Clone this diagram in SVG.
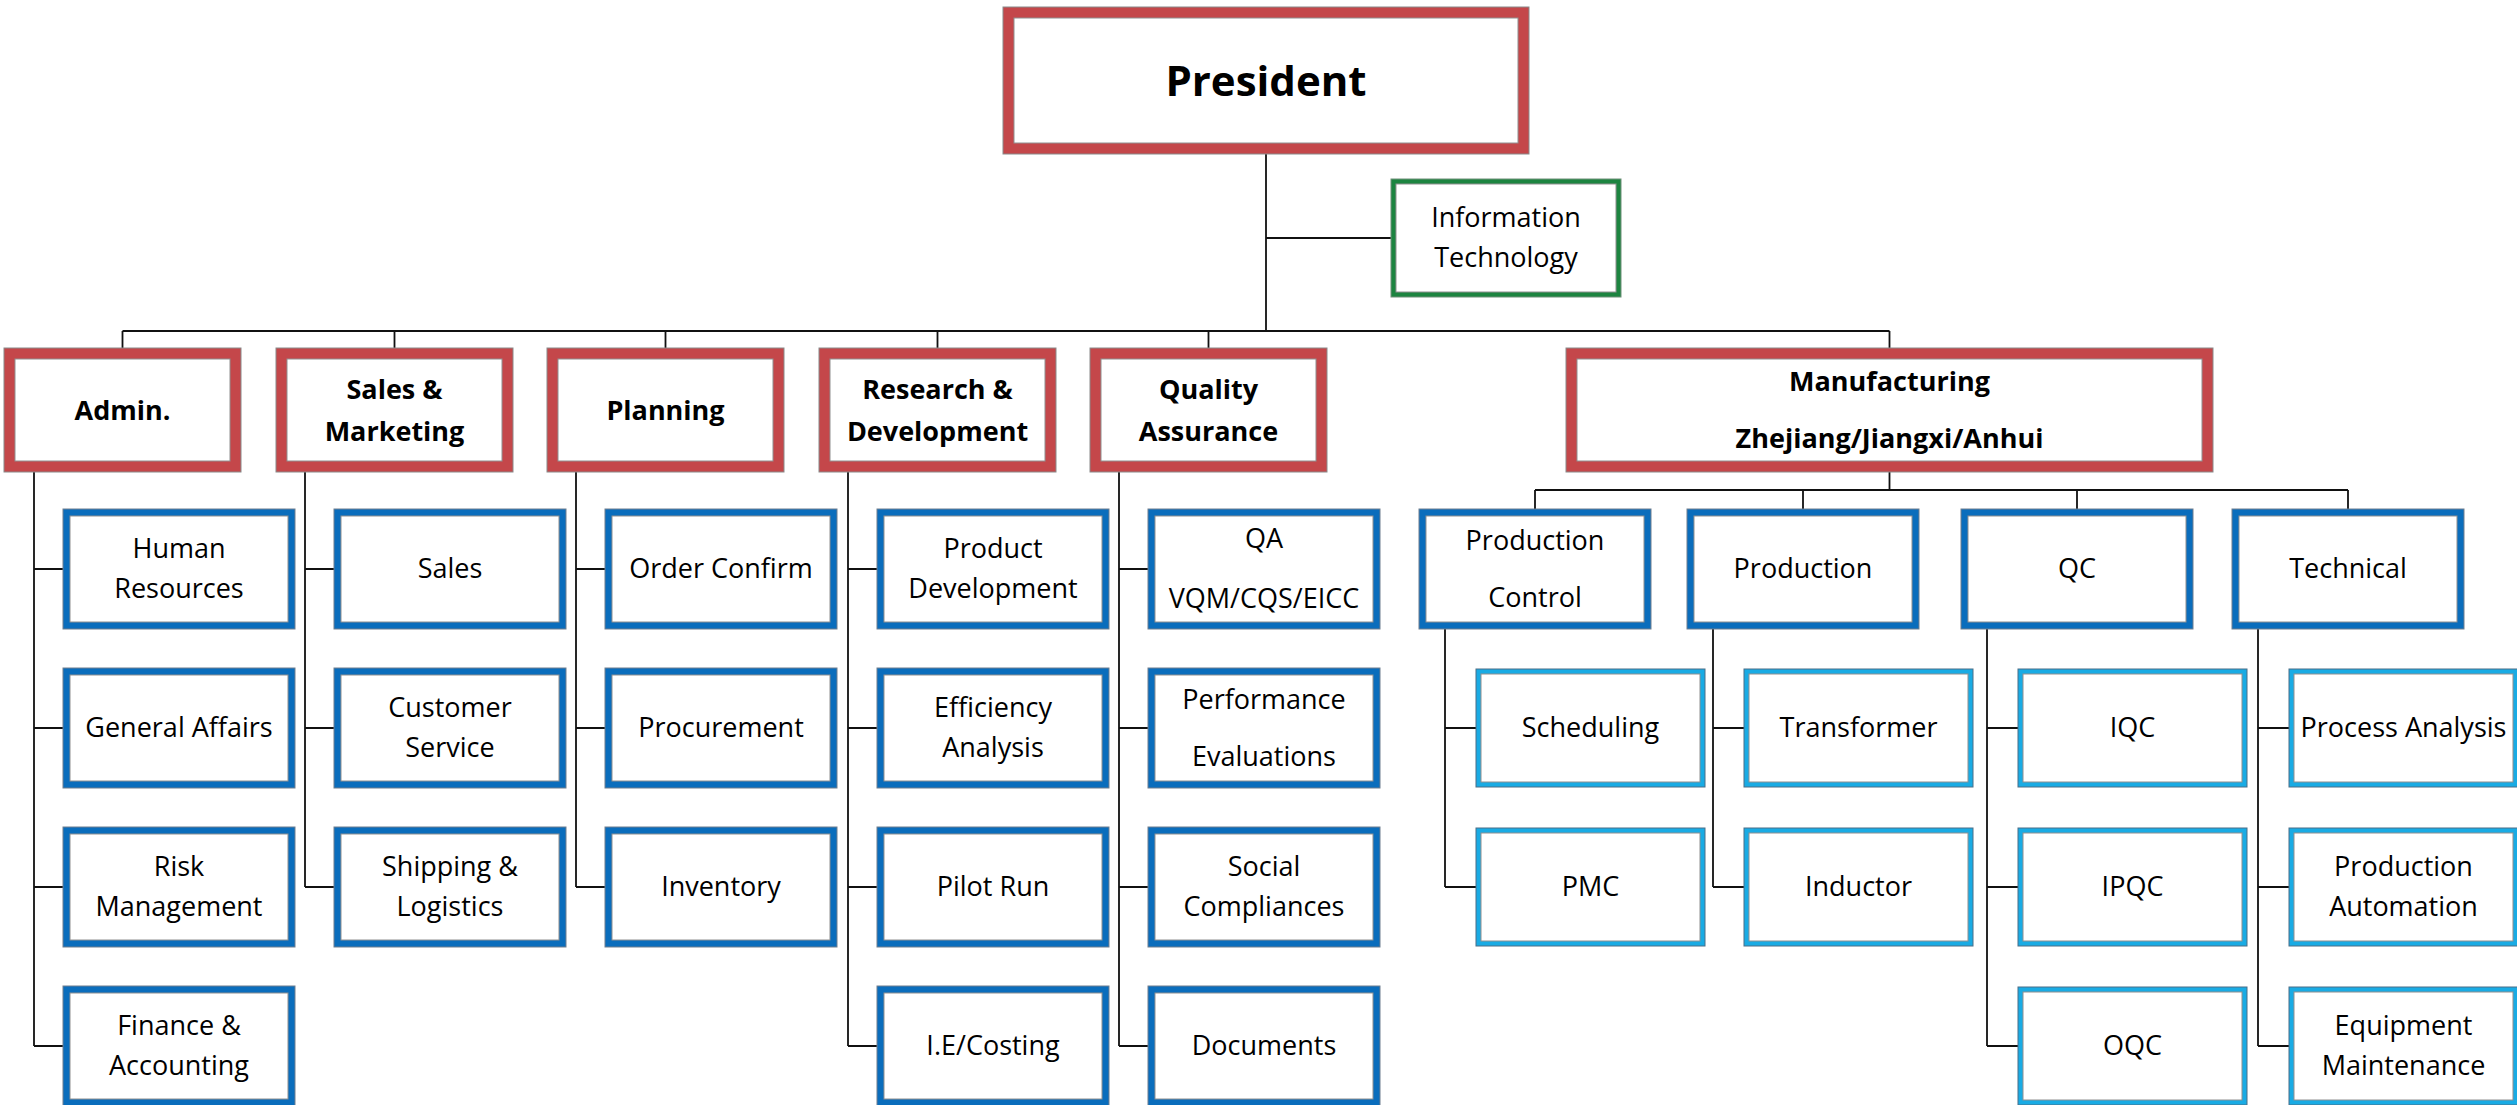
<svg xmlns="http://www.w3.org/2000/svg" width="2517" height="1105" viewBox="0 0 2517 1105">
<style>
text{font-family:"Open Sans","Noto Sans","DejaVu Sans",sans-serif;fill:#000;text-anchor:middle}
.t{font-size:27px}
.b{font-size:27px;font-weight:bold}
.p{font-size:42px;font-weight:bold}
.red{fill:#C4474A;stroke:#8a8a8a;stroke-width:1}
.dblue{fill:#0A6DBC;stroke:#6f7f8f;stroke-width:1}
.lblue{fill:#19ABE4;stroke:#4a6f88;stroke-width:1}
.green{fill:#1C8440;stroke:#6f8f78;stroke-width:1}
.in{fill:#fff;stroke:#8f8f8f;stroke-width:1}
.c{fill:none;stroke:#111;stroke-width:1.8}
</style>
<g id="connectors">
<path class="c" d="M1266 154V331M1266 238H1391M122.5 331H1889.5"/>
<path class="c" d="M122.5 331V348M394.5 331V348M665.5 331V348M937.5 331V348M1208.5 331V348M1889.5 331V348"/>
<path class="c" d="M34 472V1046M34 569H63M34 728H63M34 887H63M34 1046H63"/>
<path class="c" d="M305 472V887M305 569H334M305 728H334M305 887H334"/>
<path class="c" d="M576 472V887M576 569H605M576 728H605M576 887H605"/>
<path class="c" d="M848 472V1046M848 569H877M848 728H877M848 887H877M848 1046H877"/>
<path class="c" d="M1119 472V1046M1119 569H1148M1119 728H1148M1119 887H1148M1119 1046H1148"/>
<path class="c" d="M1889.5 472V490M1535 490H2348M1535 490V509M1803 490V509M2077 490V509M2348 490V509"/>
<path class="c" d="M1445 629V887M1445 728H1476M1445 887H1476"/>
<path class="c" d="M1713 629V887M1713 728H1744M1713 887H1744"/>
<path class="c" d="M1987 629V1046M1987 728H2018M1987 887H2018M1987 1046H2018"/>
<path class="c" d="M2258 629V1046M2258 728H2289M2258 887H2289M2258 1046H2289"/>
</g>
<g id="president"><rect class="red" x="1003" y="7" width="526" height="147"/><rect class="in" x="1014" y="18" width="504" height="125"/><text class="p" x="1266" y="96">President</text></g>
<g id="it"><rect class="green" x="1391" y="179" width="230" height="118"/><rect class="in" x="1396" y="184" width="220" height="108"/><text class="t" x="1506" y="227">Information</text><text class="t" x="1506" y="267">Technology</text></g>
<g id="admin"><rect class="red" x="4" y="348" width="237" height="124"/><rect class="in" x="15" y="359" width="215" height="102"/><text class="b" x="122.5" y="419.5">Admin.</text></g>
<g id="sales-marketing"><rect class="red" x="276" y="348" width="237" height="124"/><rect class="in" x="287" y="359" width="215" height="102"/><text class="b" x="394.5" y="398.5">Sales &amp;</text><text class="b" x="394.5" y="440.5">Marketing</text></g>
<g id="planning"><rect class="red" x="547" y="348" width="237" height="124"/><rect class="in" x="558" y="359" width="215" height="102"/><text class="b" x="665.5" y="419.5">Planning</text></g>
<g id="rnd"><rect class="red" x="819" y="348" width="237" height="124"/><rect class="in" x="830" y="359" width="215" height="102"/><text class="b" x="937.5" y="398.5">Research &amp;</text><text class="b" x="937.5" y="440.5">Development</text></g>
<g id="qa-dept"><rect class="red" x="1090" y="348" width="237" height="124"/><rect class="in" x="1101" y="359" width="215" height="102"/><text class="b" x="1208.5" y="398.5">Quality</text><text class="b" x="1208.5" y="440.5">Assurance</text></g>
<g id="manufacturing"><rect class="red" x="1566" y="348" width="647" height="124"/><rect class="in" x="1577" y="359" width="625" height="102"/><text class="b" x="1889.5" y="391">Manufacturing</text><text class="b" x="1889.5" y="448">Zhejiang/Jiangxi/Anhui</text></g>

<g id="hr"><rect class="dblue" x="63" y="509" width="232" height="120"/><rect class="in" x="70" y="516" width="218" height="106"/><text class="t" x="179" y="558">Human</text><text class="t" x="179" y="598">Resources</text></g>
<g id="general-affairs"><rect class="dblue" x="63" y="668" width="232" height="120"/><rect class="in" x="70" y="675" width="218" height="106"/><text class="t" x="179" y="737">General Affairs</text></g>
<g id="risk"><rect class="dblue" x="63" y="827" width="232" height="120"/><rect class="in" x="70" y="834" width="218" height="106"/><text class="t" x="179" y="876">Risk</text><text class="t" x="179" y="916">Management</text></g>
<g id="finance"><rect class="dblue" x="63" y="986" width="232" height="120"/><rect class="in" x="70" y="993" width="218" height="106"/><text class="t" x="179" y="1035">Finance &amp;</text><text class="t" x="179" y="1075">Accounting</text></g>

<g id="sales"><rect class="dblue" x="334" y="509" width="232" height="120"/><rect class="in" x="341" y="516" width="218" height="106"/><text class="t" x="450" y="578">Sales</text></g>
<g id="customer-service"><rect class="dblue" x="334" y="668" width="232" height="120"/><rect class="in" x="341" y="675" width="218" height="106"/><text class="t" x="450" y="717">Customer</text><text class="t" x="450" y="757">Service</text></g>
<g id="shipping"><rect class="dblue" x="334" y="827" width="232" height="120"/><rect class="in" x="341" y="834" width="218" height="106"/><text class="t" x="450" y="876">Shipping &amp;</text><text class="t" x="450" y="916">Logistics</text></g>

<g id="order-confirm"><rect class="dblue" x="605" y="509" width="232" height="120"/><rect class="in" x="612" y="516" width="218" height="106"/><text class="t" x="721" y="578">Order Confirm</text></g>
<g id="procurement"><rect class="dblue" x="605" y="668" width="232" height="120"/><rect class="in" x="612" y="675" width="218" height="106"/><text class="t" x="721" y="737">Procurement</text></g>
<g id="inventory"><rect class="dblue" x="605" y="827" width="232" height="120"/><rect class="in" x="612" y="834" width="218" height="106"/><text class="t" x="721" y="896">Inventory</text></g>

<g id="product-development"><rect class="dblue" x="877" y="509" width="232" height="120"/><rect class="in" x="884" y="516" width="218" height="106"/><text class="t" x="993" y="558">Product</text><text class="t" x="993" y="598">Development</text></g>
<g id="efficiency"><rect class="dblue" x="877" y="668" width="232" height="120"/><rect class="in" x="884" y="675" width="218" height="106"/><text class="t" x="993" y="717">Efficiency</text><text class="t" x="993" y="757">Analysis</text></g>
<g id="pilot-run"><rect class="dblue" x="877" y="827" width="232" height="120"/><rect class="in" x="884" y="834" width="218" height="106"/><text class="t" x="993" y="896">Pilot Run</text></g>
<g id="ie-costing"><rect class="dblue" x="877" y="986" width="232" height="120"/><rect class="in" x="884" y="993" width="218" height="106"/><text class="t" x="993" y="1055">I.E/Costing</text></g>

<g id="qa"><rect class="dblue" x="1148" y="509" width="232" height="120"/><rect class="in" x="1155" y="516" width="218" height="106"/><text class="t" x="1264" y="548">QA</text><text class="t" x="1264" y="608">VQM/CQS/EICC</text></g>
<g id="performance"><rect class="dblue" x="1148" y="668" width="232" height="120"/><rect class="in" x="1155" y="675" width="218" height="106"/><text class="t" x="1264" y="709">Performance</text><text class="t" x="1264" y="766">Evaluations</text></g>
<g id="social"><rect class="dblue" x="1148" y="827" width="232" height="120"/><rect class="in" x="1155" y="834" width="218" height="106"/><text class="t" x="1264" y="876">Social</text><text class="t" x="1264" y="916">Compliances</text></g>
<g id="documents"><rect class="dblue" x="1148" y="986" width="232" height="120"/><rect class="in" x="1155" y="993" width="218" height="106"/><text class="t" x="1264" y="1055">Documents</text></g>

<g id="production-control"><rect class="dblue" x="1419" y="509" width="232" height="120"/><rect class="in" x="1426" y="516" width="218" height="106"/><text class="t" x="1535" y="550">Production</text><text class="t" x="1535" y="607">Control</text></g>
<g id="production"><rect class="dblue" x="1687" y="509" width="232" height="120"/><rect class="in" x="1694" y="516" width="218" height="106"/><text class="t" x="1803" y="578">Production</text></g>
<g id="qc"><rect class="dblue" x="1961" y="509" width="232" height="120"/><rect class="in" x="1968" y="516" width="218" height="106"/><text class="t" x="2077" y="578">QC</text></g>
<g id="technical"><rect class="dblue" x="2232" y="509" width="232" height="120"/><rect class="in" x="2239" y="516" width="218" height="106"/><text class="t" x="2348" y="578">Technical</text></g>

<g id="scheduling"><rect class="lblue" x="1476" y="669" width="229" height="118"/><rect class="in" x="1481" y="674" width="219" height="108"/><text class="t" x="1590.5" y="737">Scheduling</text></g>
<g id="pmc"><rect class="lblue" x="1476" y="828" width="229" height="118"/><rect class="in" x="1481" y="833" width="219" height="108"/><text class="t" x="1590.5" y="896">PMC</text></g>
<g id="transformer"><rect class="lblue" x="1744" y="669" width="229" height="118"/><rect class="in" x="1749" y="674" width="219" height="108"/><text class="t" x="1858.5" y="737">Transformer</text></g>
<g id="inductor"><rect class="lblue" x="1744" y="828" width="229" height="118"/><rect class="in" x="1749" y="833" width="219" height="108"/><text class="t" x="1858.5" y="896">Inductor</text></g>
<g id="iqc"><rect class="lblue" x="2018" y="669" width="229" height="118"/><rect class="in" x="2023" y="674" width="219" height="108"/><text class="t" x="2132.5" y="737">IQC</text></g>
<g id="ipqc"><rect class="lblue" x="2018" y="828" width="229" height="118"/><rect class="in" x="2023" y="833" width="219" height="108"/><text class="t" x="2132.5" y="896">IPQC</text></g>
<g id="oqc"><rect class="lblue" x="2018" y="987" width="229" height="118"/><rect class="in" x="2023" y="992" width="219" height="108"/><text class="t" x="2132.5" y="1055">OQC</text></g>
<g id="process-analysis"><rect class="lblue" x="2289" y="669" width="229" height="118"/><rect class="in" x="2294" y="674" width="219" height="108"/><text class="t" x="2403.5" y="737">Process Analysis</text></g>
<g id="production-automation"><rect class="lblue" x="2289" y="828" width="229" height="118"/><rect class="in" x="2294" y="833" width="219" height="108"/><text class="t" x="2403.5" y="876">Production</text><text class="t" x="2403.5" y="916">Automation</text></g>
<g id="equipment-maintenance"><rect class="lblue" x="2289" y="987" width="229" height="118"/><rect class="in" x="2294" y="992" width="219" height="108"/><text class="t" x="2403.5" y="1035">Equipment</text><text class="t" x="2403.5" y="1075">Maintenance</text></g>
</svg>
